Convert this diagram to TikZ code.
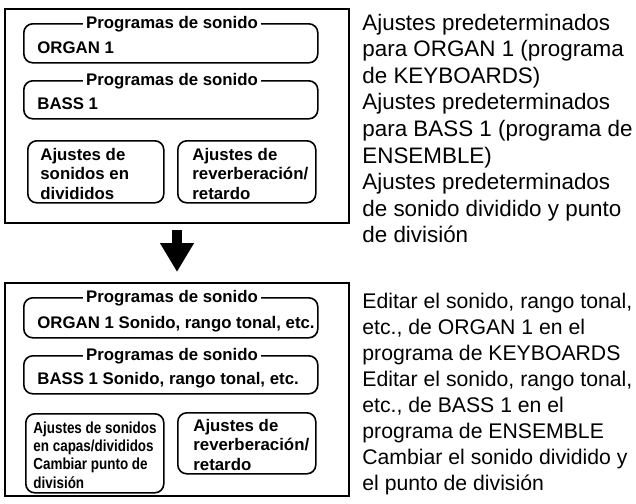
\documentclass[tikz,border=0pt]{standalone}
\usepackage{fontspec}
\setmainfont{Liberation Sans}
\newfontfamily\narrowfont[FakeStretch=0.84]{Liberation Sans}
\usetikzlibrary{arrows.meta,positioning}

\begin{document}
\begin{tikzpicture}[
  x=0.5pt,y=-0.5pt,
  frame/.style={draw,line width=1pt,anchor=north west,inner sep=0pt},
  sbox/.style={draw,rounded corners=4.5pt,line width=0.8pt,anchor=north west,inner sep=0pt},
  ttl/.style={fill=white,font=\fontsize{8.4}{10}\selectfont\bfseries,inner xsep=1.8pt,inner ysep=0.6pt,anchor=base},
  boxtxt/.style={font=\fontsize{8.4}{9.75}\selectfont\bfseries,align=left,inner sep=0pt,anchor=base west},
  narrow/.style={font=\narrowfont\bfseries\fontsize{8}{9.15}\selectfont,align=left,inner sep=0pt,anchor=base west},
  note/.style={font=\fontsize{11.2}{13.3}\selectfont,align=left,inner sep=0pt,anchor=base west},
  editnote/.style={note,font=\fontsize{10.6}{13}\selectfont},
  bigarr/.style={line width=5pt,-{Triangle[length=14.5pt,width=16pt]}}
]
\useasboundingbox (0,0) rectangle (636,503);
% default settings (anchor base = last line)
\node[frame,minimum width=172pt,minimum height=107pt] (before) at (4,8) {};
\node[sbox,minimum width=147pt,minimum height=19.5pt] (organ) at (23,23) {};
\node[sbox,minimum width=147pt,minimum height=19pt] (bass) at (23,80) {};
\node[sbox,minimum width=68pt,minimum height=31pt] (split) at (27,140) {};
\node[sbox,minimum width=69pt,minimum height=31pt] (reverb) at (177,140) {};
\node[ttl] (organttl) at (172,28.5) {Programas de sonido};
\node[ttl] (bassttl) at (172,85.5) {Programas de sonido};
\node[boxtxt] (organtxt) at (37,53.5) {ORGAN 1};
\node[boxtxt] (basstxt) at (37,109) {BASS 1};
\node[boxtxt] (splittxt) at (40,199) {Ajustes de\\sonidos en\\divididos};
\node[boxtxt] (reverbtxt) at (192,199) {Ajustes de\\reverberación/\\retardo};
% edited settings
\node[frame,minimum width=172pt,minimum height=106.5pt] (after) at (4,282) {};
\node[sbox,minimum width=147pt,minimum height=20pt] (organed) at (23,297) {};
\node[sbox,minimum width=147pt,minimum height=19pt] (bassed) at (23,355) {};
\node[sbox,minimum width=69pt,minimum height=39.5pt] (layer) at (25,413) {};
\node[sbox,minimum width=69pt,minimum height=30.5pt] (reverbed) at (177,412) {};
\node[ttl] (organedttl) at (172,302.5) {Programas de sonido};
\node[ttl] (bassedttl) at (172,360.5) {Programas de sonido};
\node[boxtxt] (organedtxt) at (37,328) {ORGAN 1 Sonido, rango tonal, etc.};
\node[boxtxt] (bassedtxt) at (37,384) {BASS 1 Sonido, rango tonal, etc.};
\node[narrow] (layertxt) at (33,488) {Ajustes de sonidos\\en capas/divididos\\Cambiar punto de\\división};
\node[boxtxt] (reverbedtxt) at (193,470) {Ajustes de\\reverberación/\\retardo};
\draw[bigarr] ([yshift=-3pt]before.south) -- ([yshift=5pt]after.north);
% notes
\node[note] (note1) at (362,83.2) {Ajustes predeterminados\\para ORGAN 1 (programa\\de KEYBOARDS)};
\node[note] (note2) at (362,163) {Ajustes predeterminados\\para BASS 1 (programa de\\ENSEMBLE)};
\node[note] (note3) at (362,242.8) {Ajustes predeterminados\\de sonido dividido y punto\\de división};
\node[editnote] (note4) at (362,360) {Editar el sonido, rango tonal,\\etc., de ORGAN 1 en el\\programa de KEYBOARDS};
\node[editnote] (note5) at (362,438) {Editar el sonido, rango tonal,\\etc., de BASS 1 en el\\programa de ENSEMBLE};
\node[editnote] (note6) at (362,490) {Cambiar el sonido dividido y\\el punto de división};
\end{tikzpicture}
\end{document}
